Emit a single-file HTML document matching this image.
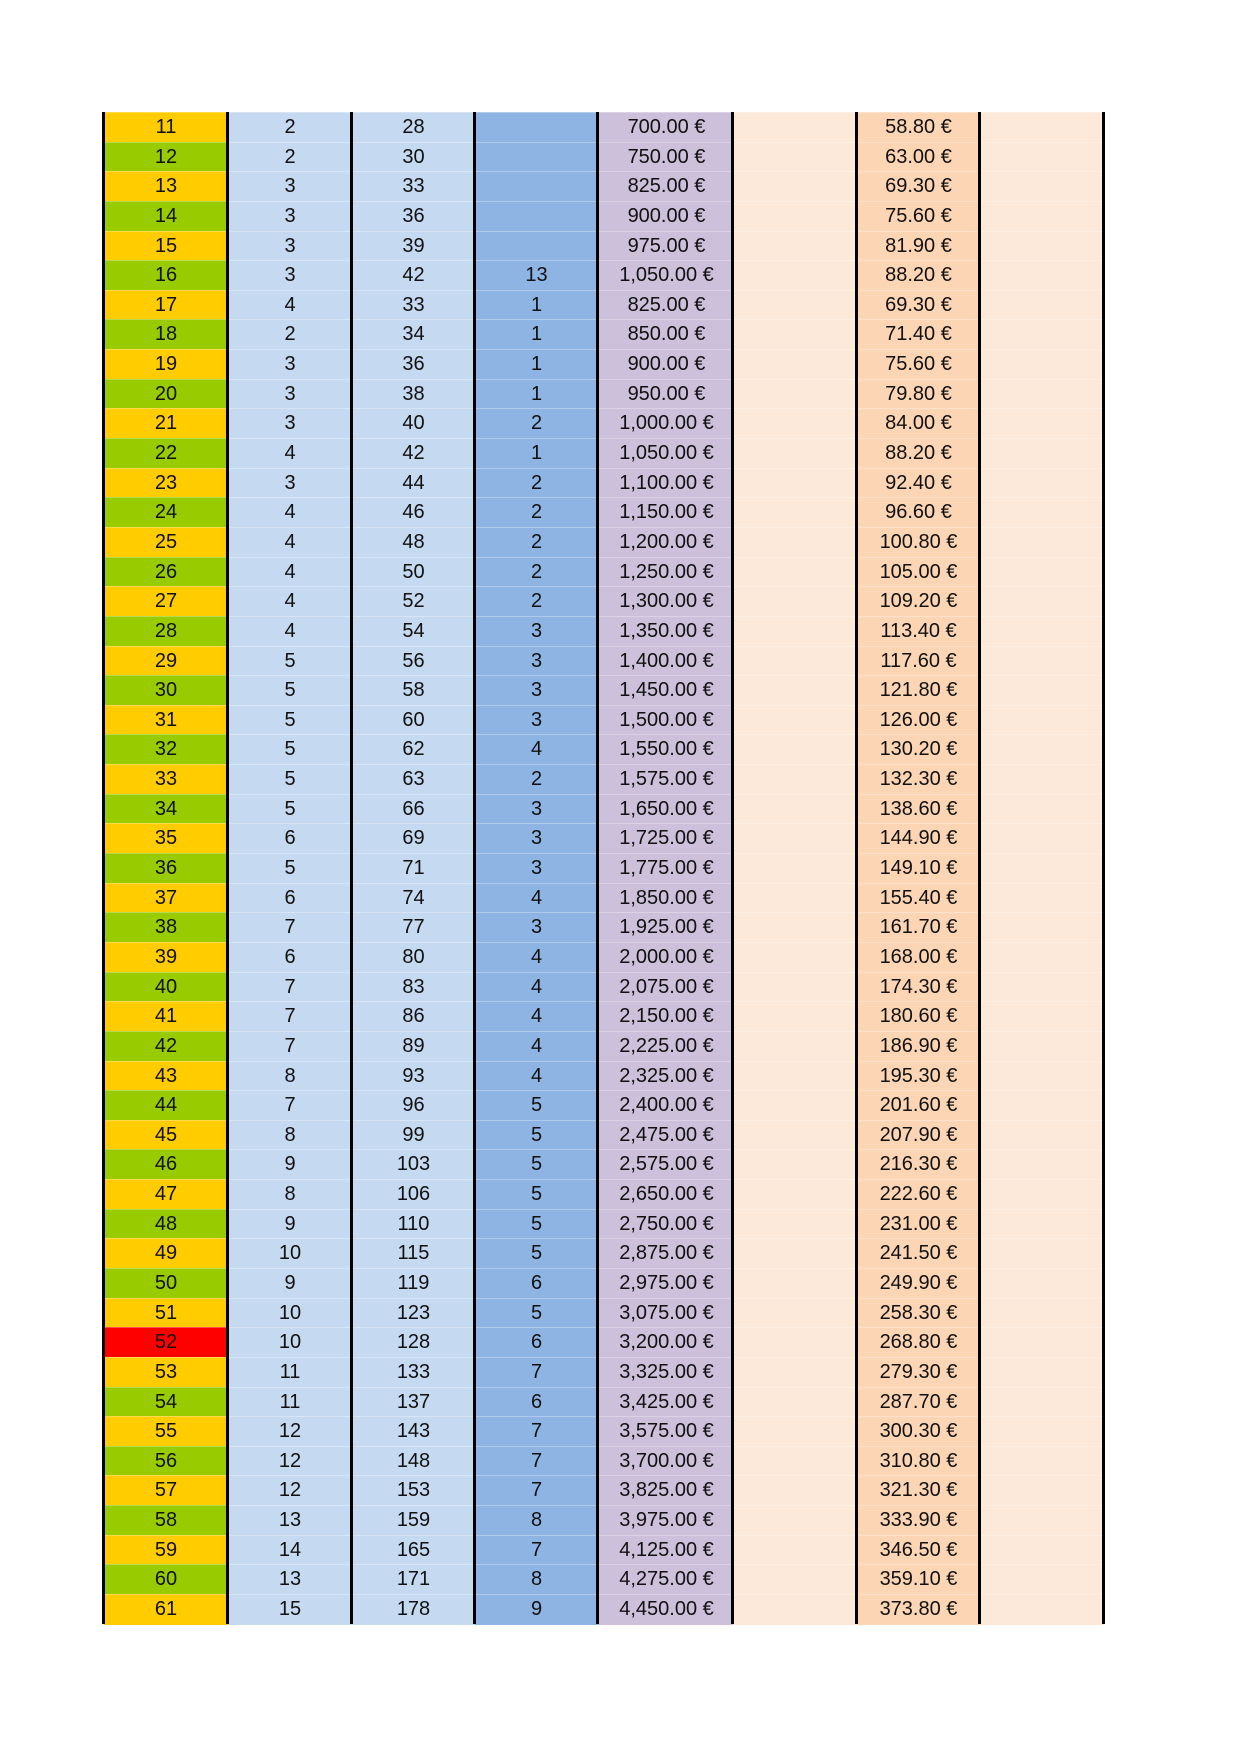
<!DOCTYPE html>
<html><head><meta charset="utf-8"><style>
html,body{margin:0;padding:0;background:#fff;width:1241px;height:1754px;overflow:hidden}
#t{position:absolute;left:104px;top:112px;width:1000px}
.r{display:grid;grid-template-columns:124px 124px 123px 123px 135px 124px 123px 124px;height:29.647px;font:20px "Liberation Sans",sans-serif;color:#111;line-height:31px}
.r>div{text-align:center;box-shadow:inset 0 1px 0 rgba(255,255,255,0.3)}
.r>div:nth-child(2),.r>div:nth-child(3){background:#c5d9f1}
.r>div:nth-child(4){background:#8db4e2}
.r>div:nth-child(5){background:#ccc0da;padding-left:2px}
.r>div:nth-child(6),.r>div:nth-child(8){background:#fde9d9}
.r>div:nth-child(7){background:#fcd5b4}
.y>div:first-child{background:#ffcc00}
.g>div:first-child{background:#99cc00}
.x>div:first-child{background:#ff0000}
.b{position:absolute;top:112px;height:1512px;width:3px;background:#000}
</style></head><body>
<div id="t">
<div class="r y"><div>11</div><div>2</div><div>28</div><div></div><div>700.00 €</div><div></div><div>58.80 €</div><div></div></div>
<div class="r g"><div>12</div><div>2</div><div>30</div><div></div><div>750.00 €</div><div></div><div>63.00 €</div><div></div></div>
<div class="r y"><div>13</div><div>3</div><div>33</div><div></div><div>825.00 €</div><div></div><div>69.30 €</div><div></div></div>
<div class="r g"><div>14</div><div>3</div><div>36</div><div></div><div>900.00 €</div><div></div><div>75.60 €</div><div></div></div>
<div class="r y"><div>15</div><div>3</div><div>39</div><div></div><div>975.00 €</div><div></div><div>81.90 €</div><div></div></div>
<div class="r g"><div>16</div><div>3</div><div>42</div><div>13</div><div>1,050.00 €</div><div></div><div>88.20 €</div><div></div></div>
<div class="r y"><div>17</div><div>4</div><div>33</div><div>1</div><div>825.00 €</div><div></div><div>69.30 €</div><div></div></div>
<div class="r g"><div>18</div><div>2</div><div>34</div><div>1</div><div>850.00 €</div><div></div><div>71.40 €</div><div></div></div>
<div class="r y"><div>19</div><div>3</div><div>36</div><div>1</div><div>900.00 €</div><div></div><div>75.60 €</div><div></div></div>
<div class="r g"><div>20</div><div>3</div><div>38</div><div>1</div><div>950.00 €</div><div></div><div>79.80 €</div><div></div></div>
<div class="r y"><div>21</div><div>3</div><div>40</div><div>2</div><div>1,000.00 €</div><div></div><div>84.00 €</div><div></div></div>
<div class="r g"><div>22</div><div>4</div><div>42</div><div>1</div><div>1,050.00 €</div><div></div><div>88.20 €</div><div></div></div>
<div class="r y"><div>23</div><div>3</div><div>44</div><div>2</div><div>1,100.00 €</div><div></div><div>92.40 €</div><div></div></div>
<div class="r g"><div>24</div><div>4</div><div>46</div><div>2</div><div>1,150.00 €</div><div></div><div>96.60 €</div><div></div></div>
<div class="r y"><div>25</div><div>4</div><div>48</div><div>2</div><div>1,200.00 €</div><div></div><div>100.80 €</div><div></div></div>
<div class="r g"><div>26</div><div>4</div><div>50</div><div>2</div><div>1,250.00 €</div><div></div><div>105.00 €</div><div></div></div>
<div class="r y"><div>27</div><div>4</div><div>52</div><div>2</div><div>1,300.00 €</div><div></div><div>109.20 €</div><div></div></div>
<div class="r g"><div>28</div><div>4</div><div>54</div><div>3</div><div>1,350.00 €</div><div></div><div>113.40 €</div><div></div></div>
<div class="r y"><div>29</div><div>5</div><div>56</div><div>3</div><div>1,400.00 €</div><div></div><div>117.60 €</div><div></div></div>
<div class="r g"><div>30</div><div>5</div><div>58</div><div>3</div><div>1,450.00 €</div><div></div><div>121.80 €</div><div></div></div>
<div class="r y"><div>31</div><div>5</div><div>60</div><div>3</div><div>1,500.00 €</div><div></div><div>126.00 €</div><div></div></div>
<div class="r g"><div>32</div><div>5</div><div>62</div><div>4</div><div>1,550.00 €</div><div></div><div>130.20 €</div><div></div></div>
<div class="r y"><div>33</div><div>5</div><div>63</div><div>2</div><div>1,575.00 €</div><div></div><div>132.30 €</div><div></div></div>
<div class="r g"><div>34</div><div>5</div><div>66</div><div>3</div><div>1,650.00 €</div><div></div><div>138.60 €</div><div></div></div>
<div class="r y"><div>35</div><div>6</div><div>69</div><div>3</div><div>1,725.00 €</div><div></div><div>144.90 €</div><div></div></div>
<div class="r g"><div>36</div><div>5</div><div>71</div><div>3</div><div>1,775.00 €</div><div></div><div>149.10 €</div><div></div></div>
<div class="r y"><div>37</div><div>6</div><div>74</div><div>4</div><div>1,850.00 €</div><div></div><div>155.40 €</div><div></div></div>
<div class="r g"><div>38</div><div>7</div><div>77</div><div>3</div><div>1,925.00 €</div><div></div><div>161.70 €</div><div></div></div>
<div class="r y"><div>39</div><div>6</div><div>80</div><div>4</div><div>2,000.00 €</div><div></div><div>168.00 €</div><div></div></div>
<div class="r g"><div>40</div><div>7</div><div>83</div><div>4</div><div>2,075.00 €</div><div></div><div>174.30 €</div><div></div></div>
<div class="r y"><div>41</div><div>7</div><div>86</div><div>4</div><div>2,150.00 €</div><div></div><div>180.60 €</div><div></div></div>
<div class="r g"><div>42</div><div>7</div><div>89</div><div>4</div><div>2,225.00 €</div><div></div><div>186.90 €</div><div></div></div>
<div class="r y"><div>43</div><div>8</div><div>93</div><div>4</div><div>2,325.00 €</div><div></div><div>195.30 €</div><div></div></div>
<div class="r g"><div>44</div><div>7</div><div>96</div><div>5</div><div>2,400.00 €</div><div></div><div>201.60 €</div><div></div></div>
<div class="r y"><div>45</div><div>8</div><div>99</div><div>5</div><div>2,475.00 €</div><div></div><div>207.90 €</div><div></div></div>
<div class="r g"><div>46</div><div>9</div><div>103</div><div>5</div><div>2,575.00 €</div><div></div><div>216.30 €</div><div></div></div>
<div class="r y"><div>47</div><div>8</div><div>106</div><div>5</div><div>2,650.00 €</div><div></div><div>222.60 €</div><div></div></div>
<div class="r g"><div>48</div><div>9</div><div>110</div><div>5</div><div>2,750.00 €</div><div></div><div>231.00 €</div><div></div></div>
<div class="r y"><div>49</div><div>10</div><div>115</div><div>5</div><div>2,875.00 €</div><div></div><div>241.50 €</div><div></div></div>
<div class="r g"><div>50</div><div>9</div><div>119</div><div>6</div><div>2,975.00 €</div><div></div><div>249.90 €</div><div></div></div>
<div class="r y"><div>51</div><div>10</div><div>123</div><div>5</div><div>3,075.00 €</div><div></div><div>258.30 €</div><div></div></div>
<div class="r x"><div>52</div><div>10</div><div>128</div><div>6</div><div>3,200.00 €</div><div></div><div>268.80 €</div><div></div></div>
<div class="r y"><div>53</div><div>11</div><div>133</div><div>7</div><div>3,325.00 €</div><div></div><div>279.30 €</div><div></div></div>
<div class="r g"><div>54</div><div>11</div><div>137</div><div>6</div><div>3,425.00 €</div><div></div><div>287.70 €</div><div></div></div>
<div class="r y"><div>55</div><div>12</div><div>143</div><div>7</div><div>3,575.00 €</div><div></div><div>300.30 €</div><div></div></div>
<div class="r g"><div>56</div><div>12</div><div>148</div><div>7</div><div>3,700.00 €</div><div></div><div>310.80 €</div><div></div></div>
<div class="r y"><div>57</div><div>12</div><div>153</div><div>7</div><div>3,825.00 €</div><div></div><div>321.30 €</div><div></div></div>
<div class="r g"><div>58</div><div>13</div><div>159</div><div>8</div><div>3,975.00 €</div><div></div><div>333.90 €</div><div></div></div>
<div class="r y"><div>59</div><div>14</div><div>165</div><div>7</div><div>4,125.00 €</div><div></div><div>346.50 €</div><div></div></div>
<div class="r g"><div>60</div><div>13</div><div>171</div><div>8</div><div>4,275.00 €</div><div></div><div>359.10 €</div><div></div></div>
<div class="r y"><div>61</div><div>15</div><div>178</div><div>9</div><div>4,450.00 €</div><div></div><div>373.80 €</div><div></div></div>
</div>
<div class="b" style="left:102px"></div>
<div class="b" style="left:226px"></div>
<div class="b" style="left:350px"></div>
<div class="b" style="left:473px"></div>
<div class="b" style="left:596px"></div>
<div class="b" style="left:731px"></div>
<div class="b" style="left:855px"></div>
<div class="b" style="left:978px"></div>
<div class="b" style="left:1102px"></div>
</body></html>
